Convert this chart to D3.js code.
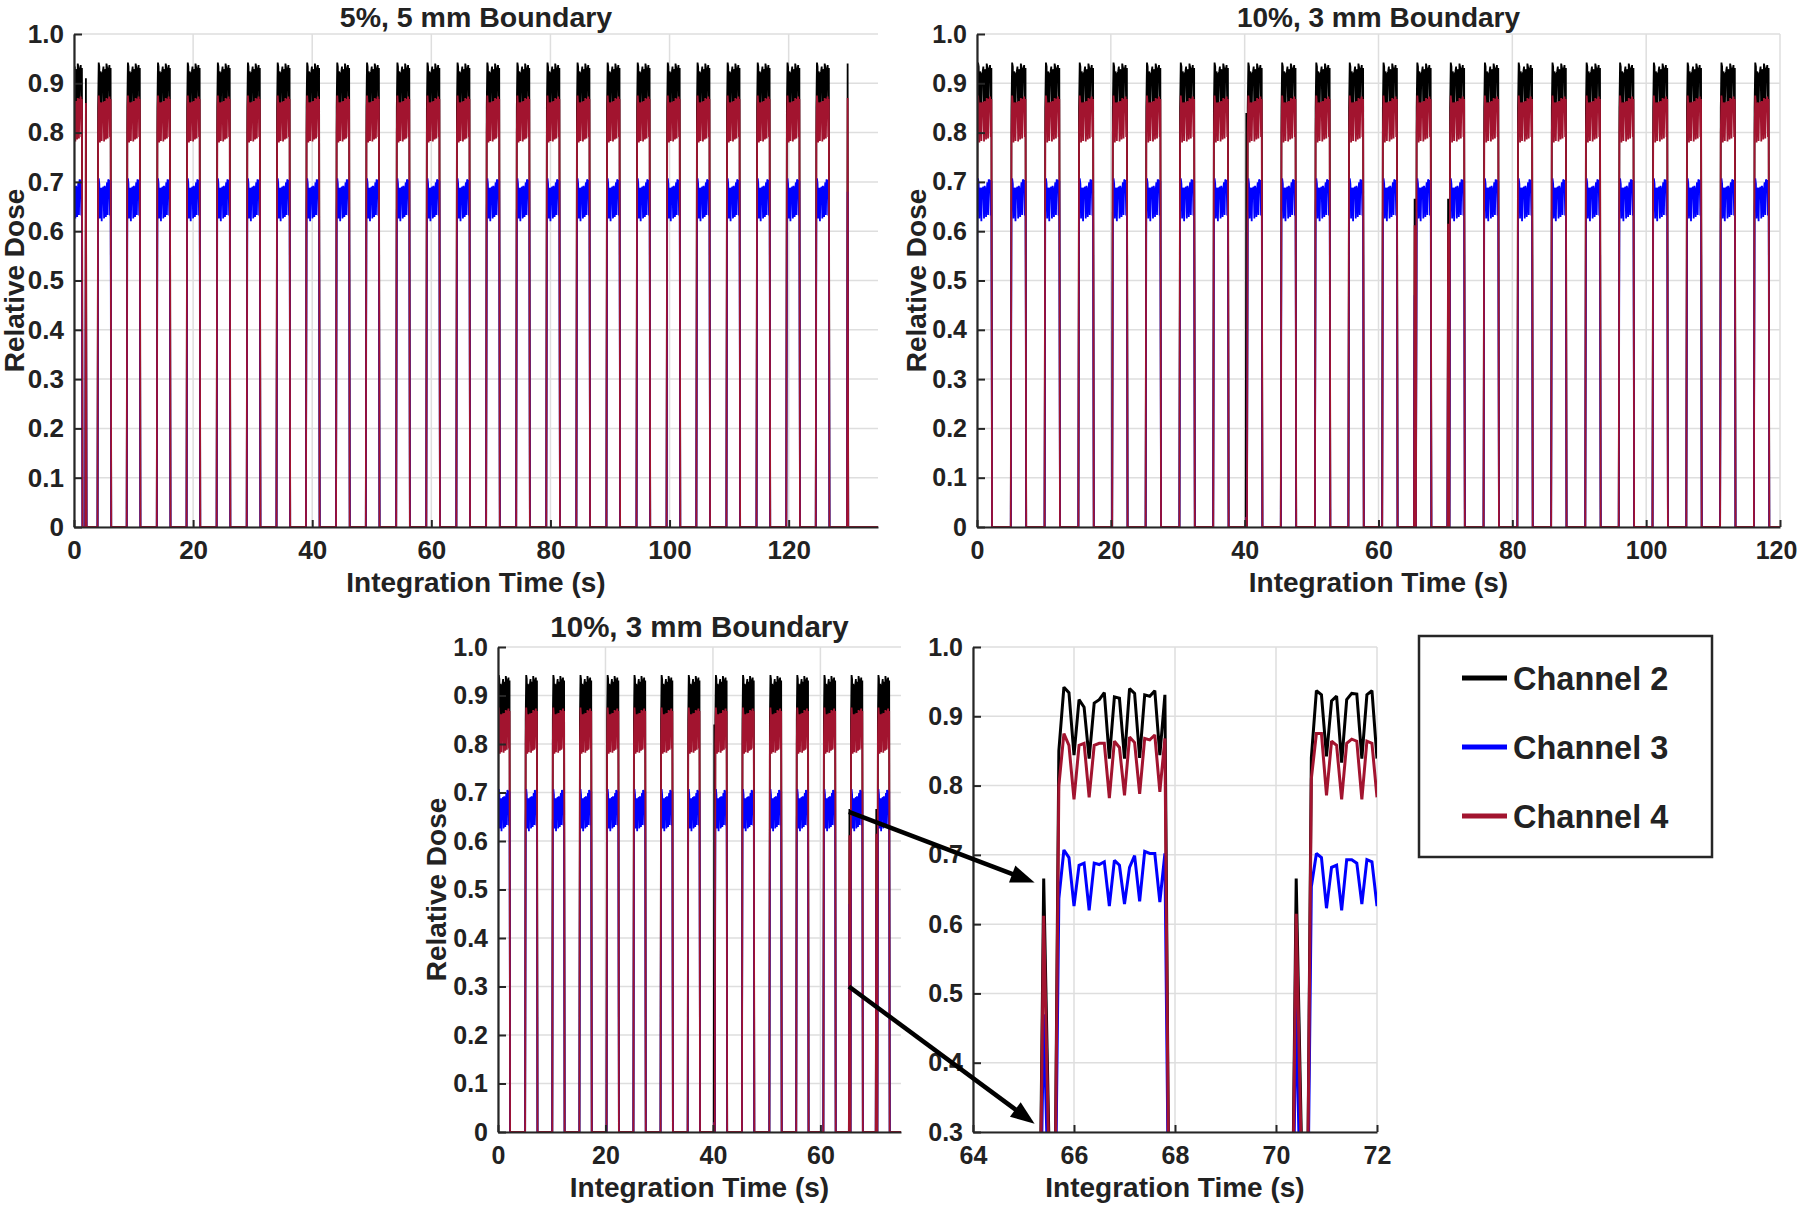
<!DOCTYPE html>
<html>
<head>
<meta charset="utf-8">
<script src="https://cdn.jsdelivr.net/npm/d3@7"></script>
<style>
  body { margin: 0; background: #fff; }
  svg text { font-family: "Liberation Sans", Arial, Helvetica, sans-serif; font-weight: bold; fill: #222; }
</style>
</head>
<body>
<svg id="chart" width="1800" height="1208"></svg>
<script>
"use strict";

// samples of the 64-72 s inset (time in s, relative dose)
var zoomTime = [64.0, 65.3, 65.4, 65.5, 65.6, 65.7,
    65.8, 65.9, 66.0, 66.1, 66.2, 66.3, 66.4, 66.5, 66.6, 66.7, 66.8,
    66.9, 67.0, 67.1, 67.2, 67.3, 67.4, 67.5, 67.6, 67.7, 67.8, 67.9,
    70.3, 70.4, 70.5, 70.6, 70.7,
    70.8, 70.9, 71.0, 71.1, 71.2, 71.3, 71.4, 71.5, 71.6, 71.7, 71.8, 71.9, 72.0];
var zoomCh2 = [0, 0, 0.666, 0.30, 0, 0.85,
    0.942, 0.934, 0.844, 0.924, 0.913, 0.839, 0.919, 0.924, 0.934, 0.839, 0.928,
    0.926, 0.839, 0.940, 0.933, 0.840, 0.931, 0.929, 0.937, 0.844, 0.931, 0,
    0, 0.666, 0.30, 0, 0.84,
    0.937, 0.931, 0.842, 0.922, 0.929, 0.833, 0.924, 0.933, 0.932, 0.839, 0.931, 0.937, 0.839];
var zoomCh3 = [0, 0, 0.47, 0.19, 0, 0.637,
    0.707, 0.696, 0.626, 0.685, 0.688, 0.620, 0.688, 0.686, 0.690, 0.626, 0.692,
    0.685, 0.629, 0.682, 0.699, 0.633, 0.705, 0.702, 0.702, 0.632, 0.702, 0,
    0, 0.49, 0.13, 0, 0.654,
    0.702, 0.696, 0.623, 0.682, 0.685, 0.620, 0.693, 0.693, 0.688, 0.629, 0.693, 0.690, 0.626];
var zoomCh4 = [0, 0, 0.612, 0.27, 0, 0.80,
    0.875, 0.858, 0.780, 0.858, 0.861, 0.783, 0.858, 0.861, 0.861, 0.782, 0.864,
    0.855, 0.786, 0.870, 0.862, 0.788, 0.868, 0.866, 0.873, 0.791, 0.868, 0,
    0, 0.615, 0.27, 0, 0.81,
    0.875, 0.875, 0.786, 0.864, 0.858, 0.780, 0.861, 0.867, 0.864, 0.780, 0.864, 0.861, 0.783];

// the pulse that starts at 65.7 s is used as the shape of every pulse in the long runs
var profileStart = 65.6, profileEnd = 67.9, profileRise = 65.7;

// rising-edge times of the pulses (s)
var pulses5 = [-0.77, 4.05, 8.95, 14.0, 19.0, 24.05, 29.1, 34.1, 39.05, 44.1, 49.1,
    54.2, 59.25, 64.3, 69.3, 74.35, 79.4, 84.45, 89.5, 94.55, 99.6, 104.6,
    109.65, 114.7, 119.7, 124.65];
var pulses10 = [0.05, 5.15, 10.2, 15.25, 20.3, 25.3, 30.35, 35.4, 40.45, 45.5, 50.6,
    55.6, 60.65, 65.7, 70.7, 75.8, 80.85, 85.9, 91.0, 96.0, 101.05, 106.1,
    111.15, 116.2];

// single-sample spikes: [time, ch2, ch3, ch4]
var spikes5 = [[2.0, 0.91, 0.66, 0.86], [129.9, 0.94, 0.68, 0.87]];
var spikes10 = [[40.25, 0.84, 0.02, 0.02], [65.4, 0.666, 0.47, 0.612], [70.4, 0.666, 0.49, 0.615]];

var channels = ['Channel 2', 'Channel 3', 'Channel 4'];
var colors = ['#000000', '#0000ff', '#a2142f'];

var yTicksFull = [0, 0.1, 0.2, 0.3, 0.4, 0.5, 0.6, 0.7, 0.8, 0.9, 1.0];
var yTicksZoom = [0.3, 0.4, 0.5, 0.6, 0.7, 0.8, 0.9, 1.0];
var xTicksLong = [0, 20, 40, 60, 80, 100, 120];
var xTicksShort = [0, 20, 40, 60];
var xTicksZoom = [64, 66, 68, 70, 72];

var svg = d3.select('#chart');
var defs = svg.append('defs');

var zoomCols = [zoomCh2, zoomCh3, zoomCh4];

function build_series( pulses, spikes, tEnd, c ) {
    var pts = [[-2, 0]];
    pulses.forEach(function( p ) {
        zoomTime.forEach(function( t, i ) {
            if ( t >= profileStart - 1e-9 && t <= profileEnd + 1e-9 ) {
                pts.push([ p + (t - profileRise), zoomCols[c][i] ]);
            }
        });
    });
    spikes.forEach(function( s ) {
        pts.push([ s[0] - 0.1, 0 ]);
        pts.push([ s[0], s[1 + c] ]);
        pts.push([ s[0] + 0.1, 0 ]);
    });
    pts.push([ tEnd + 2, 0 ]);
    pts.sort(function( a, b ) { return a[0] - b[0]; });
    return pts;
}

function zoom_series( c ) {
    return zoomTime.map(function( t, i ) { return [ t, zoomCols[c][i] ]; });
}

var fmtY = function( d ) { return d === 0 ? '0' : d.toFixed(1); };

var panels = [
    { id: 'p1', title: '5%, 5 mm Boundary', left: 74, right: 878, top: 34, bottom: 527,
      xDomain: [0, 135], yDomain: [0, 1], xTicks: xTicksLong, yTicks: yTicksFull,
      ylabelX: 14, titleY: 27, titleSize: 28.5, tickSize: 26, labelSize: 28, lw: 1.8,
      series: [0, 1, 2].map(function( c ) { return build_series( pulses5, spikes5, 135, c ); }) },
    { id: 'p2', title: '10%, 3 mm Boundary', left: 977, right: 1780, top: 34, bottom: 527,
      xDomain: [0, 120], yDomain: [0, 1], xTicks: xTicksLong, yTicks: yTicksFull,
      ylabelX: 916, titleY: 27, titleSize: 28, tickSize: 25, labelSize: 28, lw: 1.8,
      series: [0, 1, 2].map(function( c ) { return build_series( pulses10, spikes10, 120, c ); }) },
    { id: 'p3', title: '10%, 3 mm Boundary', left: 498, right: 901, top: 647, bottom: 1132,
      xDomain: [0, 75], yDomain: [0, 1], xTicks: xTicksShort, yTicks: yTicksFull,
      ylabelX: 436, titleY: 637, titleSize: 29.5, tickSize: 25, labelSize: 28, lw: 1.8,
      series: [0, 1, 2].map(function( c ) { return build_series( pulses10, spikes10, 75, c ); }) },
    { id: 'p4', title: null, left: 973, right: 1377, top: 647, bottom: 1132,
      xDomain: [64, 72], yDomain: [0.3, 1], xTicks: xTicksZoom, yTicks: yTicksZoom,
      ylabelX: null, titleY: null, titleSize: 0, tickSize: 25, labelSize: 28, lw: 3,
      series: [0, 1, 2].map( zoom_series ) }
];

panels.forEach(function( p ) {
    var x = d3.scaleLinear().domain( p.xDomain ).range([ p.left, p.right ]);
    var y = d3.scaleLinear().domain( p.yDomain ).range([ p.bottom, p.top ]);
    p.x = x; p.y = y;

    var g = svg.append('g').attr('class', 'panel');

    // grid
    g.append('g').selectAll('line.hg').data( p.yTicks ).enter().append('line')
        .attr('x1', p.left).attr('x2', p.right)
        .attr('y1', function( d ) { return y( d ); }).attr('y2', function( d ) { return y( d ); })
        .attr('stroke', '#dedede').attr('stroke-width', 1.5);
    g.append('g').selectAll('line.vg').data( p.xTicks ).enter().append('line')
        .attr('y1', p.top).attr('y2', p.bottom)
        .attr('x1', function( d ) { return x( d ); }).attr('x2', function( d ) { return x( d ); })
        .attr('stroke', '#dedede').attr('stroke-width', 1.5);

    defs.append('clipPath').attr('id', 'clip-' + p.id)
        .append('rect')
        .attr('x', p.left).attr('y', p.top - 6)
        .attr('width', p.right - p.left).attr('height', p.bottom - p.top + 6);

    var line = d3.line()
        .x(function( d ) { return x( d[0] ); })
        .y(function( d ) { return y( d[1] ); });

    var data_g = g.append('g').attr('clip-path', 'url(#clip-' + p.id + ')');
    p.series.forEach(function( s, c ) {
        data_g.append('path')
            .attr('d', line( s ))
            .attr('fill', 'none')
            .attr('stroke', colors[c])
            .attr('stroke-width', p.lw)
            .attr('stroke-linejoin', 'miter')
            .attr('stroke-miterlimit', 2);
    });

    // axes
    var ax = d3.axisBottom( x ).tickValues( p.xTicks ).tickSize( -7 ).tickSizeOuter( 0 ).tickPadding( 14 );
    var ay = d3.axisLeft( y ).tickValues( p.yTicks ).tickSize( -8 ).tickSizeOuter( 0 ).tickPadding( 10 ).tickFormat( fmtY );

    var gx = g.append('g').attr('transform', 'translate(0,' + p.bottom + ')').call( ax );
    var gy = g.append('g').attr('transform', 'translate(' + p.left + ',0)').call( ay );
    [gx, gy].forEach(function( a ) {
        a.select('.domain').attr('stroke', '#262626').attr('stroke-width', 2.2);
        a.selectAll('.tick line').attr('stroke', '#262626').attr('stroke-width', 2);
        a.selectAll('.tick text').attr('fill', '#222').style('font-size', p.tickSize + 'px').style('font-family', null);
    });
    gx.selectAll('.tick text').attr('dy', '0.71em');
    // keep the last label inside the page, as in the reference
    gx.selectAll('.tick text').filter(function( d ) { return x( d ) + 22 > 1800; }).attr('dx', -4);

    g.append('text')
        .attr('x', ( p.left + p.right ) / 2)
        .attr('y', p.bottom + 65)
        .attr('text-anchor', 'middle')
        .style('font-size', p.labelSize + 'px')
        .text('Integration Time (s)');

    if ( p.ylabelX !== null ) {
        g.append('text')
            .attr('transform', 'translate(' + p.ylabelX + ',' + ( p.top + p.bottom ) / 2 + ') rotate(-90)')
            .attr('text-anchor', 'middle')
            .attr('dy', '0.36em')
            .style('font-size', p.labelSize + 'px')
            .text('Relative Dose');
    }
    if ( p.title ) {
        g.append('text')
            .attr('x', ( p.left + p.right ) / 2)
            .attr('y', p.titleY)
            .attr('text-anchor', 'middle')
            .style('font-size', p.titleSize + 'px')
            .text( p.title );
    }
});

// arrows from the inset region of panel 3 to the zoomed panel 4 (data coordinates)
var arrowFrom = [[65.3, 0.66], [65.3, 0.30]];
var arrowTo = [[65.22, 0.66], [65.22, 0.312]];

var p3 = panels[2], p4 = panels[3];
arrowFrom.forEach(function( f, i ) {
    var x1 = p3.x( f[0] ), y1 = p3.y( f[1] );
    var x2 = p4.x( arrowTo[i][0] ), y2 = p4.y( arrowTo[i][1] );
    var ang = Math.atan2( y2 - y1, x2 - x1 );
    var headL = 24, headW = 9;
    var bx = x2 - headL * Math.cos( ang ), by = y2 - headL * Math.sin( ang );
    svg.append('line')
        .attr('x1', x1).attr('y1', y1)
        .attr('x2', x2 - 18 * Math.cos( ang )).attr('y2', y2 - 18 * Math.sin( ang ))
        .attr('stroke', '#000').attr('stroke-width', 4.5);
    var pts = [
        [x2, y2],
        [bx + headW * Math.sin( ang ), by - headW * Math.cos( ang )],
        [bx - headW * Math.sin( ang ), by + headW * Math.cos( ang )]
    ];
    svg.append('path')
        .attr('d', 'M' + pts.map(function( q ) { return q.join(','); }).join('L') + 'Z')
        .attr('fill', '#000');
});

// legend
var legend = svg.append('g');
legend.append('rect')
    .attr('x', 1419).attr('y', 636).attr('width', 293).attr('height', 221)
    .attr('fill', '#fff').attr('stroke', '#262626').attr('stroke-width', 2.5);
channels.forEach(function( name, i ) {
    var ly = 678 + i * 69;
    legend.append('line')
        .attr('x1', 1462).attr('x2', 1507).attr('y1', ly).attr('y2', ly)
        .attr('stroke', colors[i]).attr('stroke-width', 5);
    legend.append('text')
        .attr('x', 1513).attr('y', ly).attr('dy', '0.36em')
        .style('font-size', '32.5px').attr('fill', '#000')
        .text( name );
});
</script>
</body>
</html>
